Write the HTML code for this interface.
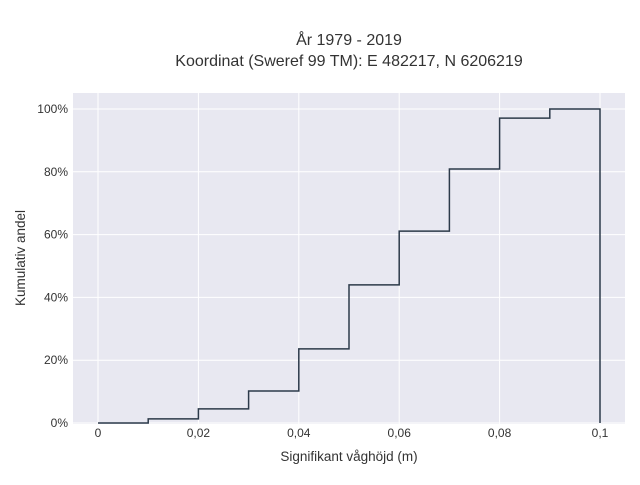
<!DOCTYPE html>
<html><head><meta charset="utf-8"><style>
body{margin:0;background:#fff;font-family:"Liberation Sans",sans-serif;}
svg text{font-family:"Liberation Sans",sans-serif;fill:#333;}
</style></head><body>
<svg width="640" height="480">
<rect x="0" y="0" width="640" height="480" fill="#fff"/>
<text x="349" y="45" font-size="16" text-anchor="middle">År 1979 - 2019</text>
<text x="349" y="66" font-size="16" text-anchor="middle">Koordinat (Sweref 99 TM): E 482217, N 6206219</text>
<rect x="73" y="93" width="552" height="331" fill="#e5e5f0" fill-opacity="0.9"/>
<g id="grid"></g>
<g id="ticks"></g>
<path id="line" fill="none" stroke="#2c3a4a" stroke-width="1.5"/>
<text x="349" y="461" font-size="13.5" text-anchor="middle">Signifikant våghöjd (m)</text>
<text x="25" y="258" font-size="13.5" text-anchor="middle" transform="rotate(-90 25 258)">Kumulativ andel</text>
</svg>
<script>
const binEdges=[0,0.01,0.02,0.03,0.04,0.05,0.06,0.07,0.08,0.09,0.1];
const cumValues=[0,1.3,4.5,10.2,23.6,44,61.1,80.9,97.1,100];
const xTicks=[0,0.02,0.04,0.06,0.08,0.1];
const xTickLabels=["0","0,02","0,04","0,06","0,08","0,1"];
const yTicks=[0,20,40,60,80,100];
const yTickLabels=["0%","20%","40%","60%","80%","100%"];
const X=v=>98+v*5020, Y=v=>423-v*3.14;
const NS="http://www.w3.org/2000/svg";
const grid=document.getElementById('grid'),ticks=document.getElementById('ticks');
xTicks.forEach((t,i)=>{
 const l=document.createElementNS(NS,'line');
 
 
 l.setAttribute('x1',X(t));l.setAttribute('x2',X(t));l.setAttribute('y1',93);l.setAttribute('y2',424);
 l.setAttribute('stroke','#fff');l.setAttribute('stroke-width','1');grid.appendChild(l);
 const tx=document.createElementNS(NS,'text');
 
 
 tx.setAttribute('x',X(t));tx.setAttribute('y',437);tx.setAttribute('font-size','12');tx.setAttribute('text-anchor','middle');
 tx.textContent=xTickLabels[i];ticks.appendChild(tx);
});
yTicks.forEach((t,i)=>{
 const l=document.createElementNS(NS,'line');
 
 
 l.setAttribute('x1',73);l.setAttribute('x2',625);l.setAttribute('y1',Y(t));l.setAttribute('y2',Y(t));
 l.setAttribute('stroke','#fff');l.setAttribute('stroke-width','1');grid.appendChild(l);
 const tx=document.createElementNS(NS,'text');
 
 
 tx.setAttribute('x',68);tx.setAttribute('y',Y(t)+4);tx.setAttribute('font-size','12');tx.setAttribute('text-anchor','end');
 tx.textContent=yTickLabels[i];ticks.appendChild(tx);
});
let d='M'+X(binEdges[0])+','+Y(cumValues[0]);
cumValues.forEach((v,i)=>{d+=' L'+X(binEdges[i])+','+Y(v)+' L'+X(binEdges[i+1])+','+Y(v);});
d+=' L'+X(binEdges[binEdges.length-1])+','+Y(0);
document.getElementById('line').setAttribute('d',d);
</script>
</body></html>
